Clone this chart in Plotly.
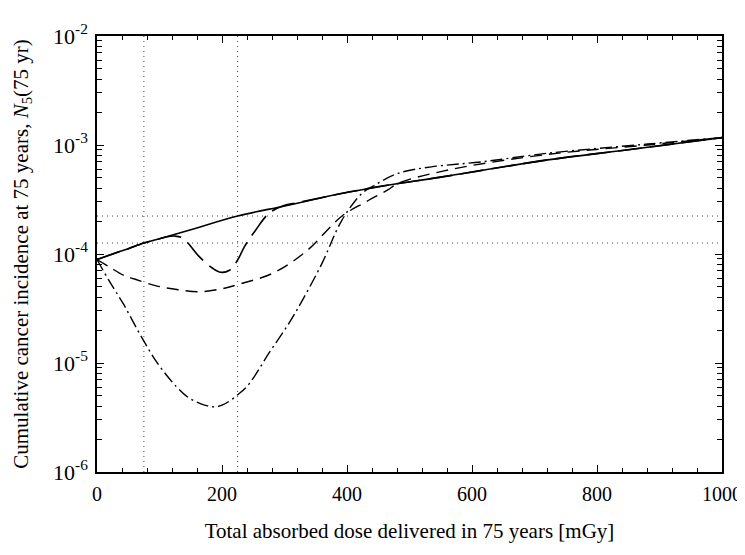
import plotly.graph_objects as go

# ---- data ----
dose_solid = [0, 25, 50, 75, 100, 150, 225, 300, 403, 467, 550, 721, 850, 1000]
n_solid = [8.9e-5, 1.0e-4, 1.12e-4, 1.26e-4, 1.38e-4, 1.67e-4, 2.23e-4, 2.76e-4,
           3.7e-4, 4.3e-4, 5.07e-4, 7.3e-4, 9.05e-4, 1.17e-3]

dose_dip = [0, 25, 50, 75, 100, 110, 125, 135, 145, 164, 185, 198, 212, 225, 236,
            254, 275, 297, 320, 403, 467, 550, 721, 850, 1000]
n_dip = [8.9e-5, 1.0e-4, 1.12e-4, 1.26e-4, 1.38e-4, 1.43e-4, 1.46e-4, 1.42e-4,
         1.27e-4, 9.4e-5, 7.4e-5, 6.8e-5, 7.1e-5, 8.8e-5, 1.17e-4, 1.66e-4,
         2.36e-4, 2.76e-4, 2.95e-4, 3.7e-4, 4.3e-4, 5.07e-4, 7.3e-4, 9.05e-4, 1.17e-3]

dose_dash = [0, 20, 42, 60, 95, 130, 164, 200, 228, 281, 334, 392, 430, 466, 482,
             562, 721, 881, 1000]
n_dash = [8.9e-5, 7.6e-5, 6.4e-5, 5.9e-5, 5.1e-5, 4.7e-5, 4.5e-5, 4.8e-5, 5.3e-5,
          6.65e-5, 1.05e-4, 2.23e-4, 3.0e-4, 3.9e-4, 4.45e-4, 5.9e-4, 8.2e-4,
          1.0e-3, 1.17e-3]

dose_dd = [0, 20, 42, 68, 95, 127, 148, 183, 200, 228, 244, 275, 307, 329, 360,
           392, 424, 445, 482, 535, 615, 721, 881, 1000]
n_dd = [8.9e-5, 5.6e-5, 3.5e-5, 1.87e-5, 1.03e-5, 6.07e-6, 4.75e-6, 3.97e-6,
        4.1e-6, 5.27e-6, 6.5e-6, 1.23e-5, 2.31e-5, 3.8e-5, 8.2e-5, 2.05e-4,
        3.6e-4, 4.3e-4, 5.5e-4, 6.3e-4, 7.0e-4, 8.4e-4, 1.02e-3, 1.17e-3]

ref_doses = [75, 225]
ref_levels = [1.26e-4, 2.23e-4]

x_range = [0, 1000]
y_range = [1e-6, 1e-2]
x_ticks = [0, 200, 400, 600, 800, 1000]
y_tickvals = [1e-6, 1e-5, 1e-4, 1e-3, 1e-2]
y_ticktext = ["10<sup>-6</sup>", "10<sup>-5</sup>", "10<sup>-4</sup>",
              "10<sup>-3</sup>", "10<sup>-2</sup>"]

FONT = "Liberation Serif, Times New Roman, serif"

fig = go.Figure()

dot_style = dict(color="#444", width=1, dash="1px,4px")
for d in ref_doses:
    fig.add_trace(go.Scatter(x=[d, d], y=y_range, mode="lines", line=dot_style,
                             showlegend=False, hoverinfo="skip"))
for v in ref_levels:
    fig.add_trace(go.Scatter(x=x_range, y=[v, v], mode="lines", line=dot_style,
                             showlegend=False, hoverinfo="skip"))

fig.add_trace(go.Scatter(x=dose_solid, y=n_solid, mode="lines", line_shape="spline",
                         line=dict(color="black", width=1.6), showlegend=False))
fig.add_trace(go.Scatter(x=dose_dip, y=n_dip, mode="lines", line_shape="spline",
                         line=dict(color="black", width=1.6, dash="24px,8px"),
                         showlegend=False))
fig.add_trace(go.Scatter(x=dose_dash, y=n_dash, mode="lines", line_shape="spline",
                         line=dict(color="black", width=1.4, dash="12px,7px"),
                         showlegend=False))
fig.add_trace(go.Scatter(x=dose_dd, y=n_dd, mode="lines", line_shape="spline",
                         line=dict(color="black", width=1.4, dash="12px,4px,2px,4px"),
                         showlegend=False))

fig.update_layout(
    width=745, height=555,
    margin=dict(l=89, r=31, t=28, b=91, autoexpand=False),
    paper_bgcolor="white", plot_bgcolor="white",
    font=dict(family=FONT, size=21, color="black"),
)
fig.update_xaxes(
    range=x_range, tickvals=x_ticks, showgrid=False, zeroline=False, automargin=False,
    showline=True, linecolor="black", linewidth=1.5, mirror="ticks",
    ticks="inside", ticklen=7, tickcolor="black", tickwidth=1.2,
    minor=dict(ticks="inside", ticklen=4, dtick=40, tickcolor="black", showgrid=False),
    tickfont=dict(family=FONT, size=20), ticklabelstandoff=3,
    ticklabeloverflow="allow",
    title=dict(text="Total absorbed dose delivered in 75 years [mGy]",
               font=dict(family=FONT, size=21), standoff=20),
)
fig.update_yaxes(
    type="log", range=[-6, -2], tickvals=y_tickvals, ticktext=y_ticktext,
    showgrid=False, zeroline=False, automargin=False,
    showline=True, linecolor="black", linewidth=1.5, mirror="ticks",
    ticks="inside", ticklen=7, tickcolor="black", tickwidth=1.2,
    minor=dict(ticks="inside", ticklen=5, dtick="D1", tickcolor="black", showgrid=False),
    tickfont=dict(family=FONT, size=22), ticklabelstandoff=3,
    ticklabeloverflow="allow",
    title=dict(text="Cumulative cancer incidence at 75 years, <i>N</i><sub>5</sub>(75 yr)",
               font=dict(family=FONT, size=21), standoff=19),
)

fig.write_html("out.html")
